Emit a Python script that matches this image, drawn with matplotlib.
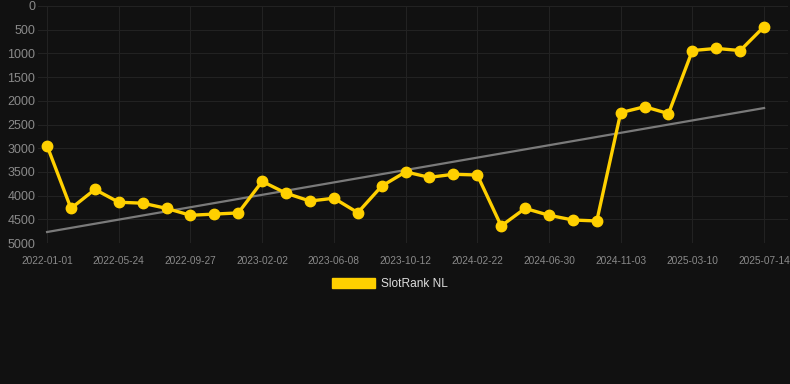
import numpy as np
import matplotlib.pyplot as plt
from matplotlib.patches import Patch

plt.rcParams['font.family'] = ['Liberation Sans', 'DejaVu Sans']

# rank values, one point per step on a category axis
ranks = [2950, 4270, 3870, 4140, 4160, 4270, 4415, 4390, 4365, 3700,
         3950, 4115, 4055, 4360, 3800, 3500, 3615, 3550, 3565, 4640,
         4270, 4415, 4515, 4535, 2250, 2125, 2270, 940, 895, 940, 435]
tick_labels = ['2022-01-01', '2022-05-24', '2022-09-27', '2023-02-02',
               '2023-06-08', '2023-10-12', '2024-02-22', '2024-06-30',
               '2024-11-03', '2025-03-10', '2025-07-14']
y_ticks = [0, 500, 1000, 1500, 2000, 2500, 3000, 3500, 4000, 4500, 5000]

bg = '#111111'
yellow = '#FFD000'

x = np.arange(len(ranks))
# linear trend through the series
slope, intercept = np.polyfit(x, ranks, 1)
trend = slope * x + intercept

fig = plt.figure(figsize=(7.9, 3.84), dpi=100, facecolor=bg)
ax = fig.add_axes([38 / 790, 1 - 243 / 384, 750 / 790, 237 / 384])
ax.set_facecolor(bg)

ax.plot(x, trend, color='#7a7a7a', linewidth=1.6, zorder=2)
ax.plot(x, ranks, color=yellow, linewidth=2.4, marker='o', markersize=7.5,
        zorder=3, clip_on=False)

ax.set_ylim(5000, 0)
ax.set_yticks(y_ticks)
ax.set_xlim(-0.38, 31.0)
ax.set_xticks(x[::3])
ax.set_xticklabels(tick_labels)

ax.grid(True, color='#222222', linewidth=0.8)
ax.set_axisbelow(True)
for s in ax.spines.values():
    s.set_visible(False)
ax.tick_params(axis='both', length=0, colors='#8a8a8a')
ax.tick_params(axis='y', labelsize=9, pad=2)
ax.tick_params(axis='x', labelsize=7.3, pad=9)

handle = Patch(facecolor=yellow, edgecolor=yellow)
leg = fig.legend([handle], ['SlotRank NL'], loc='center',
                 bbox_to_anchor=(390 / 790, 1 - 284 / 384), frameon=False,
                 handlelength=3.6, handleheight=0.9, fontsize=8.6,
                 labelcolor='#dddddd', handletextpad=0.5)

fig.savefig('out.png', dpi=100, facecolor=bg)
